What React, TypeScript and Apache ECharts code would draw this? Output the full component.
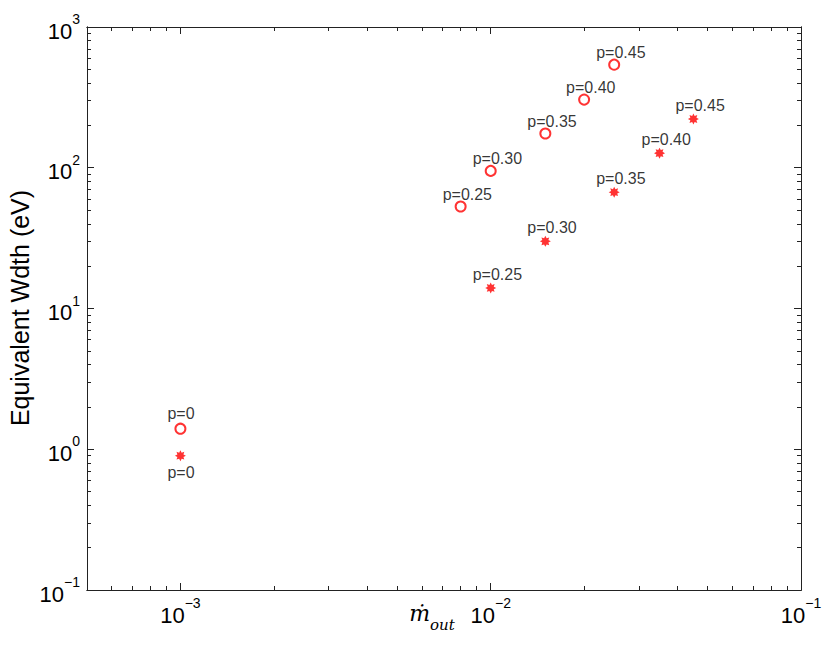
import React, { useEffect, useRef } from 'react';
import * as echarts from 'echarts';

const circleX = [0.001, 0.008, 0.01, 0.015, 0.02, 0.025];
const circleY = [1.4, 53, 95, 175, 305, 540];
const circleLabels = ['p=0', 'p=0.25', 'p=0.30', 'p=0.35', 'p=0.40', 'p=0.45'];

const starX = [0.001, 0.01, 0.015, 0.025, 0.035, 0.045];
const starY = [0.9, 14, 30, 67, 127, 222];
const starLabels = ['p=0', 'p=0.25', 'p=0.30', 'p=0.35', 'p=0.40', 'p=0.45'];

const xMajorTicks = [0.001, 0.01, 0.1];
const xMinorTicks = [
  0.0006, 0.0007, 0.0008, 0.0009,
  0.002, 0.003, 0.004, 0.005, 0.006, 0.007, 0.008, 0.009,
  0.02, 0.03, 0.04, 0.05, 0.06, 0.07, 0.08, 0.09,
];
const yMajorTicks = [0.1, 1, 10, 100, 1000];
const yMinorTicks = [
  0.2, 0.3, 0.4, 0.5, 0.6, 0.7, 0.8, 0.9,
  2, 3, 4, 5, 6, 7, 8, 9,
  20, 30, 40, 50, 60, 70, 80, 90,
  200, 300, 400, 500, 600, 700, 800, 900,
];

const X_MIN = 0.0005;
const X_MAX = 0.1;
const Y_MIN = 0.1;
const Y_MAX = 1000;

const FONT = 'Liberation Sans, Arial, Helvetica, sans-serif';

function starPath(): string {
  const n = 8;
  const pts: string[] = [];
  for (let i = 0; i < n * 2; i++) {
    const r = i % 2 === 0 ? 10 : 6;
    const a = (Math.PI * i) / n - Math.PI / 2;
    pts.push(`${(10 + r * Math.cos(a)).toFixed(2)} ${(10 + r * Math.sin(a)).toFixed(2)}`);
  }
  return 'path://M' + pts.join(' L') + ' Z';
}

function powLabel(v: number): string {
  const e = Math.round(Math.log10(v));
  const s = e < 0 ? '\u2212' + String(-e) : String(e);
  return `{b|10}{e|${s}}`;
}

const labelRich = {
  b: { fontSize: 22, fontFamily: FONT, color: '#000', lineHeight: 30, verticalAlign: 'bottom' },
  e: { fontSize: 14, fontFamily: FONT, color: '#000', lineHeight: 16, verticalAlign: 'top' },
};

function makeAxis(
  dir: 'x' | 'y',
  position: string,
  ticks: number[],
  len: number,
  showLabels: boolean,
  labelVals: number[],
) {
  return {
    type: 'log',
    logBase: 10,
    position,
    min: dir === 'x' ? X_MIN : Y_MIN,
    max: dir === 'x' ? X_MAX : Y_MAX,
    axisLine: { show: true, onZero: false, lineStyle: { color: '#222', width: 1 } },
    axisTick: {
      show: true,
      inside: true,
      length: len,
      customValues: ticks,
      lineStyle: { color: '#222', width: 1 },
    },
    minorTick: { show: false },
    splitLine: { show: false },
    axisLabel: showLabels
      ? {
          show: true,
          customValues: labelVals,
          margin: dir === 'x' ? 6 : 7,
          formatter: (v: number) => powLabel(v),
          rich: labelRich,
        }
      : { show: false },
  };
}

function makeLabel(offsetX: number, offsetY: number) {
  return {
    show: true,
    position: 'top',
    align: 'left',
    offset: [offsetX, offsetY],
    fontSize: 16,
    fontFamily: FONT,
    color: '#000',
  };
}

export default function App() {
  const ref = useRef<HTMLDivElement>(null);
  useEffect(() => {
    if (!ref.current) return;
    const chart = echarts.init(ref.current, undefined, { renderer: 'svg' });
    const circleData = circleX.map((x, i) => ({
      value: [x, circleY[i]],
      name: circleLabels[i],
      label: i === 0 ? { offset: [-13, 4] } : undefined,
    }));
    const starData = starX.map((x, i) => ({
      value: [x, starY[i]],
      name: starLabels[i],
      label: i === 0 ? { position: 'bottom', offset: [-13, -2] } : undefined,
    }));
    chart.setOption({
      animation: false,
      backgroundColor: '#fff',
      grid: { left: 87, right: 29, top: 27, bottom: 66, containLabel: false },
      xAxis: [
        makeAxis('x', 'bottom', xMajorTicks, 7, true, xMajorTicks),
        makeAxis('x', 'bottom', xMinorTicks, 4, false, []),
        makeAxis('x', 'top', xMajorTicks, 7, false, []),
        makeAxis('x', 'top', xMinorTicks, 4, false, []),
      ],
      yAxis: [
        makeAxis('y', 'left', yMajorTicks, 7, true, yMajorTicks),
        makeAxis('y', 'left', yMinorTicks, 4, false, []),
        makeAxis('y', 'right', yMajorTicks, 7, false, []),
        makeAxis('y', 'right', yMinorTicks, 4, false, []),
      ],
      series: [
        {
          type: 'scatter',
          name: 'open',
          xAxisIndex: 0,
          yAxisIndex: 0,
          symbol: 'emptyCircle',
          symbolSize: 10,
          itemStyle: { color: '#ff0000', borderColor: '#ff0000', borderWidth: 2 },
          label: { ...makeLabel(-18, 7), formatter: '{b}' },
          data: circleData,
        },
        {
          type: 'scatter',
          name: 'star',
          xAxisIndex: 0,
          yAxisIndex: 0,
          symbol: starPath(),
          symbolSize: 11,
          itemStyle: { color: '#ff0000' },
          label: { ...makeLabel(-18, 5), formatter: '{b}' },
          data: starData,
        },
      ],
      graphic: [
        {
          type: 'text',
          x: 20,
          y: 308,
          rotation: Math.PI / 2,
          style: {
            text: 'Equivalent Wdth (eV)',
            fontSize: 25,
            fontFamily: FONT,
            fill: '#000',
            align: 'center',
            verticalAlign: 'middle',
          },
        },
        {
          type: 'text',
          x: 432,
          y: 617,
          style: {
            text: '{m|\u1E41}{s|out}',
            align: 'center',
            verticalAlign: 'middle',
            rich: {
              m: { fontSize: 22, fontFamily: 'DejaVu Serif, serif', fontStyle: 'italic', fill: '#000', lineHeight: 24, verticalAlign: 'top' },
              s: { fontSize: 15, fontFamily: 'DejaVu Serif, serif', fontStyle: 'italic', fill: '#000', lineHeight: 30, verticalAlign: 'bottom' },
            },
          },
        },
      ],
    });
    return () => chart.dispose();
  }, []);
  return (
    <div
      ref={ref}
      style={{ position: 'absolute', left: 0, top: 0, width: 830, height: 656 }}
    />
  );
}
